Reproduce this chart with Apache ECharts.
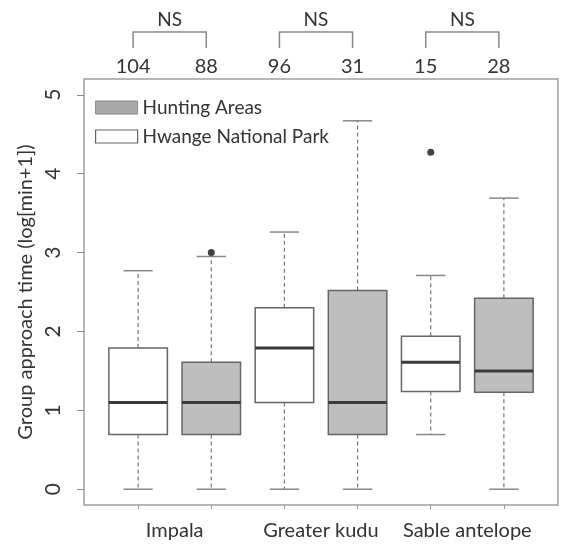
<!DOCTYPE html>
<html lang="en">
<head>
    <meta charset="UTF-8">
    <title>Group approach time</title>
    <style>
        html, body { margin: 0; padding: 0; background: #fff; }
    </style>
</head>
<body>
<div id="main" style="width: 562px;height:548px;"></div>
<script src="https://cdn.jsdelivr.net/npm/echarts@6/dist/echarts.min.js"></script>
<script>
    var species = ['Impala', 'Greater kudu', 'Sable antelope'];
    var counts = [104, 88, 96, 31, 15, 28];   // Hwange, Hunting per species
    var tests = ['NS', 'NS', 'NS'];

    // [lower whisker, Q1, median, Q3, upper whisker]
    var hwange = [
        [0, 0.693, 1.099, 1.79, 2.77],
        [0, 1.099, 1.79, 2.30, 3.26],
        [0.693, 1.24, 1.61, 1.94, 2.71]
    ];
    var hunting = [
        [0, 0.693, 1.099, 1.61, 2.95],
        [0, 0.693, 1.099, 2.52, 4.67],
        [0, 1.23, 1.50, 2.42, 3.69]
    ];
    // outliers: [species index, group (0 hwange, 1 hunting), value]
    var outliers = [
        [0, 1, 3.0],
        [2, 0, 4.27]
    ];
    var yTicks = [0, 1, 2, 3, 4, 5];

    var font = 'Lato, "Open Sans", sans-serif';
    var myChart = echarts.init(document.getElementById('main'));

    function boxData(rows, g) {
        return rows.map(function (r, i) {
            return [2 * i + 1 + g].concat(r);
        });
    }

    function renderBox(params, api) {
        var x = api.value(0);
        var half = api.size([0.4, 0])[0];
        var capHalf = half / 2;
        var lo = api.coord([x, api.value(1)]);
        var q1 = api.coord([x, api.value(2)]);
        var med = api.coord([x, api.value(3)]);
        var q3 = api.coord([x, api.value(4)]);
        var hi = api.coord([x, api.value(5)]);
        var cx = lo[0];
        var whisker = {stroke: '#777', lineWidth: 1.2, lineDash: [4, 3]};
        var cap = {stroke: '#888', lineWidth: 1.5};
        return {
            type: 'group',
            children: [
                {type: 'line', shape: {x1: cx, y1: q1[1], x2: cx, y2: lo[1]}, style: whisker},
                {type: 'line', shape: {x1: cx, y1: q3[1], x2: cx, y2: hi[1]}, style: whisker},
                {type: 'line', shape: {x1: cx - capHalf, y1: lo[1], x2: cx + capHalf, y2: lo[1]}, style: cap},
                {type: 'line', shape: {x1: cx - capHalf, y1: hi[1], x2: cx + capHalf, y2: hi[1]}, style: cap},
                {
                    type: 'rect',
                    shape: {x: cx - half, y: q3[1], width: 2 * half, height: q1[1] - q3[1]},
                    style: {fill: api.visual('color'), stroke: '#666', lineWidth: 1.5}
                },
                {type: 'line', shape: {x1: cx - half, y1: med[1], x2: cx + half, y2: med[1]},
                    style: {stroke: '#3a3a3a', lineWidth: 3}}
            ]
        };
    }

    option = {
        animation: false,
        backgroundColor: '#fff',
        textStyle: {fontFamily: font},
        grid: {
            left: 84,
            right: 4,
            top: 79,
            bottom: 43,
            show: true,
            borderColor: '#a0a0a0',
            borderWidth: 1.5
        },
        legend: {
            orient: 'vertical',
            left: 90,
            top: 93,
            itemWidth: 42,
            itemHeight: 13,
            itemGap: 10,
            selectedMode: false,
            icon: 'rect',
            textStyle: {fontFamily: font, fontSize: 19, color: '#333'},
            data: [
                {name: 'Hunting Areas', itemStyle: {color: '#aaaaaa', borderColor: '#888', borderWidth: 1}},
                {name: 'Hwange National Park', itemStyle: {color: '#fff', borderColor: '#666', borderWidth: 1.2}}
            ]
        },
        xAxis: [
            {
                type: 'value',
                min: 0.26,
                max: 6.74,
                axisLine: {show: false, onZero: false},
                splitLine: {show: false},
                axisTick: {customValues: [1, 2, 3, 4, 5, 6], length: 4, lineStyle: {color: '#999'}},
                axisLabel: {
                    customValues: [1.5, 3.5, 5.5],
                    margin: 16,
                    fontSize: 20,
                    color: '#333',
                    fontFamily: font,
                    formatter: function (v) {
                        return species[Math.round((v - 1.5) / 2)];
                    }
                }
            }
        ],
        yAxis: {
            type: 'value',
            min: -0.2,
            max: 5.2,
            name: 'Group approach time (log[min+1])',
            nameLocation: 'middle',
            nameRotate: 90,
            nameGap: 42,
            nameTextStyle: {fontFamily: font, fontSize: 20, color: '#333'},
            axisLine: {show: false, onZero: false},
            splitLine: {show: false},
            axisTick: {customValues: yTicks, length: 7, lineStyle: {color: '#888'}},
            axisLabel: {
                customValues: yTicks,
                rotate: 90,
                margin: 20,
                fontSize: 21,
                color: '#333',
                fontFamily: font
            }
        },
        series: [
            {
                name: 'Hwange National Park',
                type: 'custom',
                renderItem: renderBox,
                itemStyle: {color: '#ffffff'},
                encode: {x: 0, y: [1, 2, 3, 4, 5]},
                data: boxData(hwange, 0)
            },
            {
                name: 'Hunting Areas',
                type: 'custom',
                renderItem: renderBox,
                itemStyle: {color: '#bebebe'},
                encode: {x: 0, y: [1, 2, 3, 4, 5]},
                data: boxData(hunting, 1)
            },
            {
                name: 'outliers',
                type: 'scatter',
                symbol: 'circle',
                symbolSize: 7,
                itemStyle: {color: '#111'},
                data: outliers.map(function (o) {
                    return [2 * o[0] + 1 + o[1], o[2]];
                })
            }
        ]
    };

    myChart.setOption(option);

    // sample sizes and test brackets above the plot
    var graphics = [];
    var nudge = -5;
    for (var k = 0; k < species.length; k++) {
        var xa = myChart.convertToPixel({xAxisIndex: 0}, 2 * k + 1) + nudge;
        var xb = myChart.convertToPixel({xAxisIndex: 0}, 2 * k + 2) + nudge;
        graphics.push({
            type: 'polyline',
            shape: {points: [[xa, 48], [xa, 32], [xb, 32], [xb, 48]]},
            style: {stroke: '#888', lineWidth: 1.5, fill: null}
        });
        graphics.push({
            type: 'text',
            x: (xa + xb) / 2, y: 20,
            style: {text: tests[k], fontSize: 19, fontFamily: font, fill: '#333',
                align: 'center', verticalAlign: 'middle'}
        });
        [xa, xb].forEach(function (px, j) {
            graphics.push({
                type: 'text',
                x: px, y: 67,
                style: {text: String(counts[2 * k + j]), fontSize: 20, fontFamily: font, fill: '#333',
                    align: 'center', verticalAlign: 'middle'}
            });
        });
    }
    myChart.setOption({graphic: graphics});
</script>
</body>
</html>
